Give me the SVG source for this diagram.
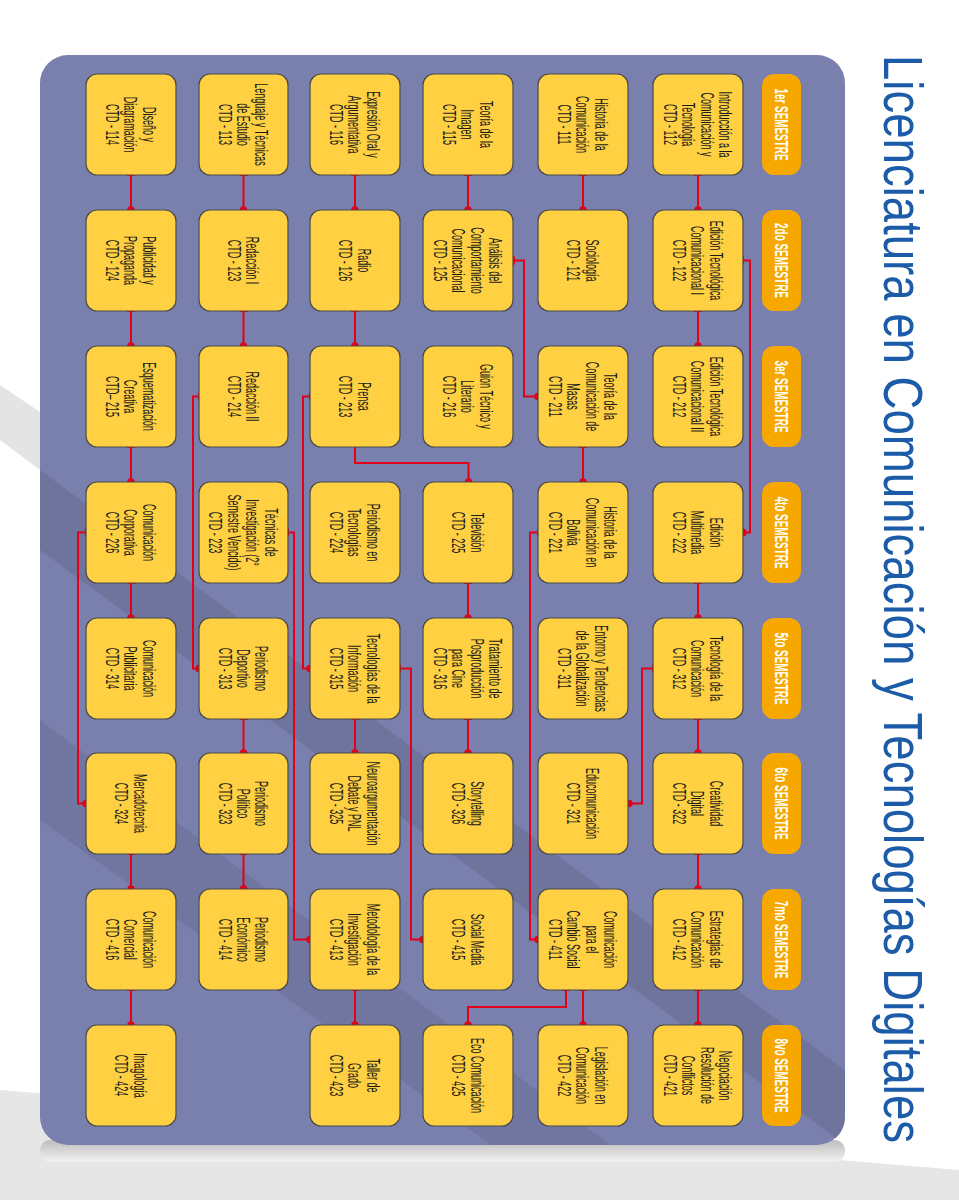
<svg xmlns="http://www.w3.org/2000/svg" width="959" height="1200" viewBox="0 0 959 1200">
<defs>
<style>
.nd rect{fill:#FFD042;stroke:#4a4a4a;stroke-width:1.2}
.nt{font-family:"Liberation Sans",Arial,sans-serif;font-size:18px;fill:#1a1a1a;text-anchor:middle}
.hd rect{fill:#F6A800}
.ht{font-family:"Liberation Sans",Arial,sans-serif;font-weight:bold;font-size:18px;fill:#ffffff;text-anchor:middle}
.conn path{stroke:#E2001A;stroke-width:2;fill:none}
.conn circle{fill:#E2001A}
</style>
<clipPath id="pc"><rect x="40" y="55" width="805" height="1090" rx="28"/></clipPath>
<linearGradient id="sh" x1="0" y1="0" x2="0" y2="1"><stop offset="0" stop-color="#bdbdbd"/><stop offset="1" stop-color="#f2f2f2"/></linearGradient>
</defs>
<rect width="959" height="1200" fill="#ffffff"/>
<g id="decor">
<polygon points="0,385 40,412 40,470 0,440" fill="#e4e4e4"/>
<polygon points="0,1090 959,1170 959,1200 0,1200" fill="#e6e6e6"/>
<rect x="40" y="1140" width="805" height="22" rx="10" fill="url(#sh)"/>
<rect x="40" y="55" width="805" height="1090" rx="28" fill="#7A80AE"/>
<g clip-path="url(#pc)">
<polygon points="40,470 845,1070 845,1145 40,550" fill="#6C7299" opacity="0.85"/>
<polygon points="40,720 845,1320 845,1400 40,820" fill="#6C7299" opacity="0.7"/>
</g>
</g>
<text id="title" transform="translate(884,55) rotate(90)" textLength="1088" lengthAdjust="spacingAndGlyphs" font-family="Liberation Sans, Arial, sans-serif" font-size="56" fill="#1B5BA7">Licenciatura en Comunicación y Tecnologías Digitales</text>

<g id="headers">
<g class="hd" id="h1"><rect x="762" y="74" width="39" height="101" rx="12"/><text class="ht" transform="translate(781.5,124.5) rotate(90) scale(0.55,1)" y="6.5">1er SEMESTRE</text></g>
<g class="hd" id="h2"><rect x="762" y="210" width="39" height="101" rx="12"/><text class="ht" transform="translate(781.5,260.5) rotate(90) scale(0.55,1)" y="6.5">2do SEMESTRE</text></g>
<g class="hd" id="h3"><rect x="762" y="346" width="39" height="101" rx="12"/><text class="ht" transform="translate(781.5,396.5) rotate(90) scale(0.55,1)" y="6.5">3er SEMESTRE</text></g>
<g class="hd" id="h4"><rect x="762" y="482" width="39" height="101" rx="12"/><text class="ht" transform="translate(781.5,532.5) rotate(90) scale(0.55,1)" y="6.5">4to SEMESTRE</text></g>
<g class="hd" id="h5"><rect x="762" y="618" width="39" height="101" rx="12"/><text class="ht" transform="translate(781.5,668.5) rotate(90) scale(0.55,1)" y="6.5">5to SEMESTRE</text></g>
<g class="hd" id="h6"><rect x="762" y="753" width="39" height="101" rx="12"/><text class="ht" transform="translate(781.5,803.5) rotate(90) scale(0.55,1)" y="6.5">6to SEMESTRE</text></g>
<g class="hd" id="h7"><rect x="762" y="889" width="39" height="101" rx="12"/><text class="ht" transform="translate(781.5,939.5) rotate(90) scale(0.55,1)" y="6.5">7mo SEMESTRE</text></g>
<g class="hd" id="h8"><rect x="762" y="1025" width="39" height="101" rx="12"/><text class="ht" transform="translate(781.5,1075.5) rotate(90) scale(0.55,1)" y="6.5">8vo SEMESTRE</text></g>
</g>

<g id="connectors" class="conn">
<path d="M698,175V210M694,175H702"/><circle cx="698" cy="210" r="3.8"/>
<path d="M698,311V346M694,311H702"/><circle cx="698" cy="346" r="3.8"/>
<path d="M698,583V618M694,583H702"/><circle cx="698" cy="618" r="3.8"/>
<path d="M698,719V753M694,719H702"/><circle cx="698" cy="753" r="3.8"/>
<path d="M698,854V889M694,854H702"/><circle cx="698" cy="889" r="3.8"/>
<path d="M698,990V1025M694,990H702"/><circle cx="698" cy="1025" r="3.8"/>
<path d="M583,175V210M579,175H587"/><circle cx="583" cy="210" r="3.8"/>
<path d="M583,447V482M579,447H587"/><circle cx="583" cy="482" r="3.8"/>
<path d="M583,990V1025M579,990H587"/><circle cx="583" cy="1025" r="3.8"/>
<path d="M468,175V210M464,175H472"/><circle cx="468" cy="210" r="3.8"/>
<path d="M468,583V618M464,583H472"/><circle cx="468" cy="618" r="3.8"/>
<path d="M468,719V753M464,719H472"/><circle cx="468" cy="753" r="3.8"/>
<path d="M355,175V210M351,175H359"/><circle cx="355" cy="210" r="3.8"/>
<path d="M355,311V346M351,311H359"/><circle cx="355" cy="346" r="3.8"/>
<path d="M355,719V753M351,719H359"/><circle cx="355" cy="753" r="3.8"/>
<path d="M355,990V1025M351,990H359"/><circle cx="355" cy="1025" r="3.8"/>
<path d="M243.5,175V210M239.5,175H247.5"/><circle cx="243.5" cy="210" r="3.8"/>
<path d="M243.5,311V346M239.5,311H247.5"/><circle cx="243.5" cy="346" r="3.8"/>
<path d="M243.5,719V753M239.5,719H247.5"/><circle cx="243.5" cy="753" r="3.8"/>
<path d="M243.5,854V889M239.5,854H247.5"/><circle cx="243.5" cy="889" r="3.8"/>
<path d="M131,175V210M127,175H135"/><circle cx="131" cy="210" r="3.8"/>
<path d="M131,311V346M127,311H135"/><circle cx="131" cy="346" r="3.8"/>
<path d="M131,447V482M127,447H135"/><circle cx="131" cy="482" r="3.8"/>
<path d="M131,583V618M127,583H135"/><circle cx="131" cy="618" r="3.8"/>
<path d="M131,854V889M127,854H135"/><circle cx="131" cy="889" r="3.8"/>
<path d="M131,990V1025M127,990H135"/><circle cx="131" cy="1025" r="3.8"/>
<path d="M743,260.5H750V532.5H743M743,256.5V264.5"/><circle cx="743" cy="532.5" r="3.8"/>
<path d="M514,260.5H524V396.5H538M514,256.5V264.5"/><circle cx="538" cy="396.5" r="3.8"/>
<path d="M538,532.5H530V939.5H538M538,528.5V536.5"/><circle cx="538" cy="939.5" r="3.8"/>
<path d="M653,668.5H642V803.5H629M653,664.5V672.5"/><circle cx="629" cy="803.5" r="3.8"/>
<path d="M566,990V1007H468V1025M562,990H570"/><circle cx="468" cy="1025" r="3.8"/>
<path d="M355,447V463H468.5V482"/><circle cx="468.5" cy="482" r="3.8"/>
<path d="M400,668.5H411V939.5H423M400,664.5V672.5"/><circle cx="423" cy="939.5" r="3.8"/>
<path d="M199,396.5H193V668.5H199M199,392.5V400.5"/><circle cx="199" cy="668.5" r="3.8"/>
<path d="M310,396.5H303V668.5H310M310,392.5V400.5"/><circle cx="310" cy="668.5" r="3.8"/>
<path d="M288,532.5H294V939.5H310M288,528.5V536.5"/><circle cx="310" cy="939.5" r="3.8"/>
<path d="M86,532.5H78V803.5H86M86,528.5V536.5"/><circle cx="86" cy="803.5" r="3.8"/>
</g>

<g id="nodes">
<g class="nd" id="n112"><rect x="653" y="74" width="90" height="101" rx="11"/><text class="nt" transform="translate(698,124.5) rotate(90) scale(0.5,1)"><tspan x="0" y="-21.25">Introducción a la</tspan><tspan x="0" y="-2.75">Comunicación y</tspan><tspan x="0" y="15.75">Tecnología</tspan><tspan x="0" y="34.25">CTD - 112</tspan></text></g>
<g class="nd" id="n122"><rect x="653" y="210" width="90" height="101" rx="11"/><text class="nt" transform="translate(698,260.5) rotate(90) scale(0.5,1)"><tspan x="0" y="-12">Edición Tecnológica</tspan><tspan x="0" y="6.5">Comunicacional I</tspan><tspan x="0" y="25">CTD - 122</tspan></text></g>
<g class="nd" id="n212"><rect x="653" y="346" width="90" height="101" rx="11"/><text class="nt" transform="translate(698,396.5) rotate(90) scale(0.5,1)"><tspan x="0" y="-12">Edición Tecnológica</tspan><tspan x="0" y="6.5">Comunicacional II</tspan><tspan x="0" y="25">CTD - 212</tspan></text></g>
<g class="nd" id="n222"><rect x="653" y="482" width="90" height="101" rx="11"/><text class="nt" transform="translate(698,532.5) rotate(90) scale(0.5,1)"><tspan x="0" y="-12">Edición</tspan><tspan x="0" y="6.5">Multimedia</tspan><tspan x="0" y="25">CTD - 222</tspan></text></g>
<g class="nd" id="n312"><rect x="653" y="618" width="90" height="101" rx="11"/><text class="nt" transform="translate(698,668.5) rotate(90) scale(0.5,1)"><tspan x="0" y="-12">Tecnología de la</tspan><tspan x="0" y="6.5">Comunicación</tspan><tspan x="0" y="25">CTD - 312</tspan></text></g>
<g class="nd" id="n322"><rect x="653" y="753" width="90" height="101" rx="11"/><text class="nt" transform="translate(698,803.5) rotate(90) scale(0.5,1)"><tspan x="0" y="-12">Creatividad</tspan><tspan x="0" y="6.5">Digital</tspan><tspan x="0" y="25">CTD - 322</tspan></text></g>
<g class="nd" id="n412"><rect x="653" y="889" width="90" height="101" rx="11"/><text class="nt" transform="translate(698,939.5) rotate(90) scale(0.5,1)"><tspan x="0" y="-12">Estrategias de</tspan><tspan x="0" y="6.5">Comunicación</tspan><tspan x="0" y="25">CTD - 412</tspan></text></g>
<g class="nd" id="n421"><rect x="653" y="1025" width="90" height="101" rx="11"/><text class="nt" transform="translate(698,1075.5) rotate(90) scale(0.5,1)"><tspan x="0" y="-21.25">Negociación</tspan><tspan x="0" y="-2.75">Resolución de</tspan><tspan x="0" y="15.75">Conflictos</tspan><tspan x="0" y="34.25">CTD - 421</tspan></text></g>
<g class="nd" id="n111"><rect x="538" y="74" width="90" height="101" rx="11"/><text class="nt" transform="translate(583,124.5) rotate(90) scale(0.5,1)"><tspan x="0" y="-12">Historia de la</tspan><tspan x="0" y="6.5">Comunicación</tspan><tspan x="0" y="25">CTD - 111</tspan></text></g>
<g class="nd" id="n121"><rect x="538" y="210" width="90" height="101" rx="11"/><text class="nt" transform="translate(583,260.5) rotate(90) scale(0.5,1)"><tspan x="0" y="-2.75">Sociología</tspan><tspan x="0" y="15.75">CTD - 121</tspan></text></g>
<g class="nd" id="n211"><rect x="538" y="346" width="90" height="101" rx="11"/><text class="nt" transform="translate(583,396.5) rotate(90) scale(0.5,1)"><tspan x="0" y="-21.25">Teoría de la</tspan><tspan x="0" y="-2.75">Comunicación de</tspan><tspan x="0" y="15.75">Masas</tspan><tspan x="0" y="34.25">CTD - 211</tspan></text></g>
<g class="nd" id="n221"><rect x="538" y="482" width="90" height="101" rx="11"/><text class="nt" transform="translate(583,532.5) rotate(90) scale(0.5,1)"><tspan x="0" y="-21.25">Historia de la</tspan><tspan x="0" y="-2.75">Comunicación en</tspan><tspan x="0" y="15.75">Bolivia</tspan><tspan x="0" y="34.25">CTD - 221</tspan></text></g>
<g class="nd" id="n311"><rect x="538" y="618" width="90" height="101" rx="11"/><text class="nt" transform="translate(583,668.5) rotate(90) scale(0.5,1)"><tspan x="0" y="-12">Entorno y Tendencias</tspan><tspan x="0" y="6.5">de la Globalización</tspan><tspan x="0" y="25">CTD - 311</tspan></text></g>
<g class="nd" id="n321"><rect x="538" y="753" width="90" height="101" rx="11"/><text class="nt" transform="translate(583,803.5) rotate(90) scale(0.5,1)"><tspan x="0" y="-2.75">Educomunicación</tspan><tspan x="0" y="15.75">CTD - 321</tspan></text></g>
<g class="nd" id="n411"><rect x="538" y="889" width="90" height="101" rx="11"/><text class="nt" transform="translate(583,939.5) rotate(90) scale(0.5,1)"><tspan x="0" y="-21.25">Comunicación</tspan><tspan x="0" y="-2.75">para el</tspan><tspan x="0" y="15.75">Cambio Social</tspan><tspan x="0" y="34.25">CTD - 411</tspan></text></g>
<g class="nd" id="n422"><rect x="538" y="1025" width="90" height="101" rx="11"/><text class="nt" transform="translate(583,1075.5) rotate(90) scale(0.5,1)"><tspan x="0" y="-12">Legislación en</tspan><tspan x="0" y="6.5">Comunicación</tspan><tspan x="0" y="25">CTD - 422</tspan></text></g>
<g class="nd" id="n115"><rect x="423" y="74" width="90" height="101" rx="11"/><text class="nt" transform="translate(468,124.5) rotate(90) scale(0.5,1)"><tspan x="0" y="-12">Teoría de la</tspan><tspan x="0" y="6.5">Imagen</tspan><tspan x="0" y="25">CTD - 115</tspan></text></g>
<g class="nd" id="n125"><rect x="423" y="210" width="90" height="101" rx="11"/><text class="nt" transform="translate(468,260.5) rotate(90) scale(0.5,1)"><tspan x="0" y="-21.25">Análisis del</tspan><tspan x="0" y="-2.75">Comportamiento</tspan><tspan x="0" y="15.75">Comunicacional</tspan><tspan x="0" y="34.25">CTD - 125</tspan></text></g>
<g class="nd" id="n216"><rect x="423" y="346" width="90" height="101" rx="11"/><text class="nt" transform="translate(468,396.5) rotate(90) scale(0.5,1)"><tspan x="0" y="-12">Guion Técnico y</tspan><tspan x="0" y="6.5">Literario</tspan><tspan x="0" y="25">CTD - 216</tspan></text></g>
<g class="nd" id="n225"><rect x="423" y="482" width="90" height="101" rx="11"/><text class="nt" transform="translate(468,532.5) rotate(90) scale(0.5,1)"><tspan x="0" y="-2.75">Televisión</tspan><tspan x="0" y="15.75">CTD - 225</tspan></text></g>
<g class="nd" id="n316"><rect x="423" y="618" width="90" height="101" rx="11"/><text class="nt" transform="translate(468,668.5) rotate(90) scale(0.5,1)"><tspan x="0" y="-21.25">Tratamiento de</tspan><tspan x="0" y="-2.75">Posproducción</tspan><tspan x="0" y="15.75">para Cine</tspan><tspan x="0" y="34.25">CTD - 316</tspan></text></g>
<g class="nd" id="n326"><rect x="423" y="753" width="90" height="101" rx="11"/><text class="nt" transform="translate(468,803.5) rotate(90) scale(0.5,1)"><tspan x="0" y="-2.75">Storytelling</tspan><tspan x="0" y="15.75">CTD - 326</tspan></text></g>
<g class="nd" id="n415"><rect x="423" y="889" width="90" height="101" rx="11"/><text class="nt" transform="translate(468,939.5) rotate(90) scale(0.5,1)"><tspan x="0" y="-2.75">Social Media</tspan><tspan x="0" y="15.75">CTD - 415</tspan></text></g>
<g class="nd" id="n425"><rect x="423" y="1025" width="90" height="101" rx="11"/><text class="nt" transform="translate(468,1075.5) rotate(90) scale(0.5,1)"><tspan x="0" y="-2.75">Eco Comunicación</tspan><tspan x="0" y="15.75">CTD - 425</tspan></text></g>
<g class="nd" id="n116"><rect x="310" y="74" width="90" height="101" rx="11"/><text class="nt" transform="translate(355,124.5) rotate(90) scale(0.5,1)"><tspan x="0" y="-12">Expresión Oral y</tspan><tspan x="0" y="6.5">Argumentativa</tspan><tspan x="0" y="25">CTD - 116</tspan></text></g>
<g class="nd" id="n126"><rect x="310" y="210" width="90" height="101" rx="11"/><text class="nt" transform="translate(355,260.5) rotate(90) scale(0.5,1)"><tspan x="0" y="-2.75">Radio</tspan><tspan x="0" y="15.75">CTD - 126</tspan></text></g>
<g class="nd" id="n213"><rect x="310" y="346" width="90" height="101" rx="11"/><text class="nt" transform="translate(355,396.5) rotate(90) scale(0.5,1)"><tspan x="0" y="-2.75">Prensa</tspan><tspan x="0" y="15.75">CTD - 213</tspan></text></g>
<g class="nd" id="n224"><rect x="310" y="482" width="90" height="101" rx="11"/><text class="nt" transform="translate(355,532.5) rotate(90) scale(0.5,1)"><tspan x="0" y="-12">Periodismo en</tspan><tspan x="0" y="6.5">Tecnologías</tspan><tspan x="0" y="25">CTD - 224</tspan></text></g>
<g class="nd" id="n315"><rect x="310" y="618" width="90" height="101" rx="11"/><text class="nt" transform="translate(355,668.5) rotate(90) scale(0.5,1)"><tspan x="0" y="-12">Tecnologías de la</tspan><tspan x="0" y="6.5">Información</tspan><tspan x="0" y="25">CTD - 315</tspan></text></g>
<g class="nd" id="n325"><rect x="310" y="753" width="90" height="101" rx="11"/><text class="nt" transform="translate(355,803.5) rotate(90) scale(0.5,1)"><tspan x="0" y="-12">Neuroargumentación</tspan><tspan x="0" y="6.5">Debate y PNL</tspan><tspan x="0" y="25">CTD - 325</tspan></text></g>
<g class="nd" id="n413"><rect x="310" y="889" width="90" height="101" rx="11"/><text class="nt" transform="translate(355,939.5) rotate(90) scale(0.5,1)"><tspan x="0" y="-12">Metodología de la</tspan><tspan x="0" y="6.5">Investigación</tspan><tspan x="0" y="25">CTD - 413</tspan></text></g>
<g class="nd" id="n423"><rect x="310" y="1025" width="90" height="101" rx="11"/><text class="nt" transform="translate(355,1075.5) rotate(90) scale(0.5,1)"><tspan x="0" y="-12">Taller de</tspan><tspan x="0" y="6.5">Grado</tspan><tspan x="0" y="25">CTD - 423</tspan></text></g>
<g class="nd" id="n113"><rect x="199" y="74" width="89" height="101" rx="11"/><text class="nt" transform="translate(243.5,124.5) rotate(90) scale(0.5,1)"><tspan x="0" y="-12">Lenguaje y Técnicas</tspan><tspan x="0" y="6.5">de Estudio</tspan><tspan x="0" y="25">CTD - 113</tspan></text></g>
<g class="nd" id="n123"><rect x="199" y="210" width="89" height="101" rx="11"/><text class="nt" transform="translate(243.5,260.5) rotate(90) scale(0.5,1)"><tspan x="0" y="-2.75">Redacción I</tspan><tspan x="0" y="15.75">CTD - 123</tspan></text></g>
<g class="nd" id="n214"><rect x="199" y="346" width="89" height="101" rx="11"/><text class="nt" transform="translate(243.5,396.5) rotate(90) scale(0.5,1)"><tspan x="0" y="-2.75">Redacción II</tspan><tspan x="0" y="15.75">CTD - 214</tspan></text></g>
<g class="nd" id="n223"><rect x="199" y="482" width="89" height="101" rx="11"/><text class="nt" transform="translate(243.5,532.5) rotate(90) scale(0.5,1)"><tspan x="0" y="-21.25">Técnicas de</tspan><tspan x="0" y="-2.75">Investigación  (2°</tspan><tspan x="0" y="15.75">Semestre Vencido)</tspan><tspan x="0" y="34.25">CTD  - 223</tspan></text></g>
<g class="nd" id="n313"><rect x="199" y="618" width="89" height="101" rx="11"/><text class="nt" transform="translate(243.5,668.5) rotate(90) scale(0.5,1)"><tspan x="0" y="-12">Periodismo</tspan><tspan x="0" y="6.5">Deportivo</tspan><tspan x="0" y="25">CTD - 313</tspan></text></g>
<g class="nd" id="n323"><rect x="199" y="753" width="89" height="101" rx="11"/><text class="nt" transform="translate(243.5,803.5) rotate(90) scale(0.5,1)"><tspan x="0" y="-12">Periodismo</tspan><tspan x="0" y="6.5">Político</tspan><tspan x="0" y="25">CTD - 323</tspan></text></g>
<g class="nd" id="n414"><rect x="199" y="889" width="89" height="101" rx="11"/><text class="nt" transform="translate(243.5,939.5) rotate(90) scale(0.5,1)"><tspan x="0" y="-12">Periodismo</tspan><tspan x="0" y="6.5">Económico</tspan><tspan x="0" y="25">CTD - 414</tspan></text></g>
<g class="nd" id="n114"><rect x="86" y="74" width="90" height="101" rx="11"/><text class="nt" transform="translate(131,124.5) rotate(90) scale(0.5,1)"><tspan x="0" y="-12">Diseño y</tspan><tspan x="0" y="6.5">Diagramación</tspan><tspan x="0" y="25">CTD  - 114</tspan></text></g>
<g class="nd" id="n124"><rect x="86" y="210" width="90" height="101" rx="11"/><text class="nt" transform="translate(131,260.5) rotate(90) scale(0.5,1)"><tspan x="0" y="-12">Publicidad y</tspan><tspan x="0" y="6.5">Propaganda</tspan><tspan x="0" y="25">CTD - 124</tspan></text></g>
<g class="nd" id="n215"><rect x="86" y="346" width="90" height="101" rx="11"/><text class="nt" transform="translate(131,396.5) rotate(90) scale(0.5,1)"><tspan x="0" y="-12">Esquematización</tspan><tspan x="0" y="6.5">Creativa</tspan><tspan x="0" y="25">CTD– 215</tspan></text></g>
<g class="nd" id="n226"><rect x="86" y="482" width="90" height="101" rx="11"/><text class="nt" transform="translate(131,532.5) rotate(90) scale(0.5,1)"><tspan x="0" y="-12">Comunicación</tspan><tspan x="0" y="6.5">Corporativa</tspan><tspan x="0" y="25">CTD - 226</tspan></text></g>
<g class="nd" id="n314"><rect x="86" y="618" width="90" height="101" rx="11"/><text class="nt" transform="translate(131,668.5) rotate(90) scale(0.5,1)"><tspan x="0" y="-12">Comunicación</tspan><tspan x="0" y="6.5">Publicitaria</tspan><tspan x="0" y="25">CTD - 314</tspan></text></g>
<g class="nd" id="n324"><rect x="86" y="753" width="90" height="101" rx="11"/><text class="nt" transform="translate(131,803.5) rotate(90) scale(0.5,1)"><tspan x="0" y="-2.75">Mercadotecnia</tspan><tspan x="0" y="15.75">CTD - 324</tspan></text></g>
<g class="nd" id="n416"><rect x="86" y="889" width="90" height="101" rx="11"/><text class="nt" transform="translate(131,939.5) rotate(90) scale(0.5,1)"><tspan x="0" y="-12">Comunicación</tspan><tspan x="0" y="6.5">Comercial</tspan><tspan x="0" y="25">CTD - 416</tspan></text></g>
<g class="nd" id="n424"><rect x="86" y="1025" width="90" height="101" rx="11"/><text class="nt" transform="translate(131,1075.5) rotate(90) scale(0.5,1)"><tspan x="0" y="-2.75">Imagología</tspan><tspan x="0" y="15.75">CTD - 424</tspan></text></g>
</g>
</svg>
